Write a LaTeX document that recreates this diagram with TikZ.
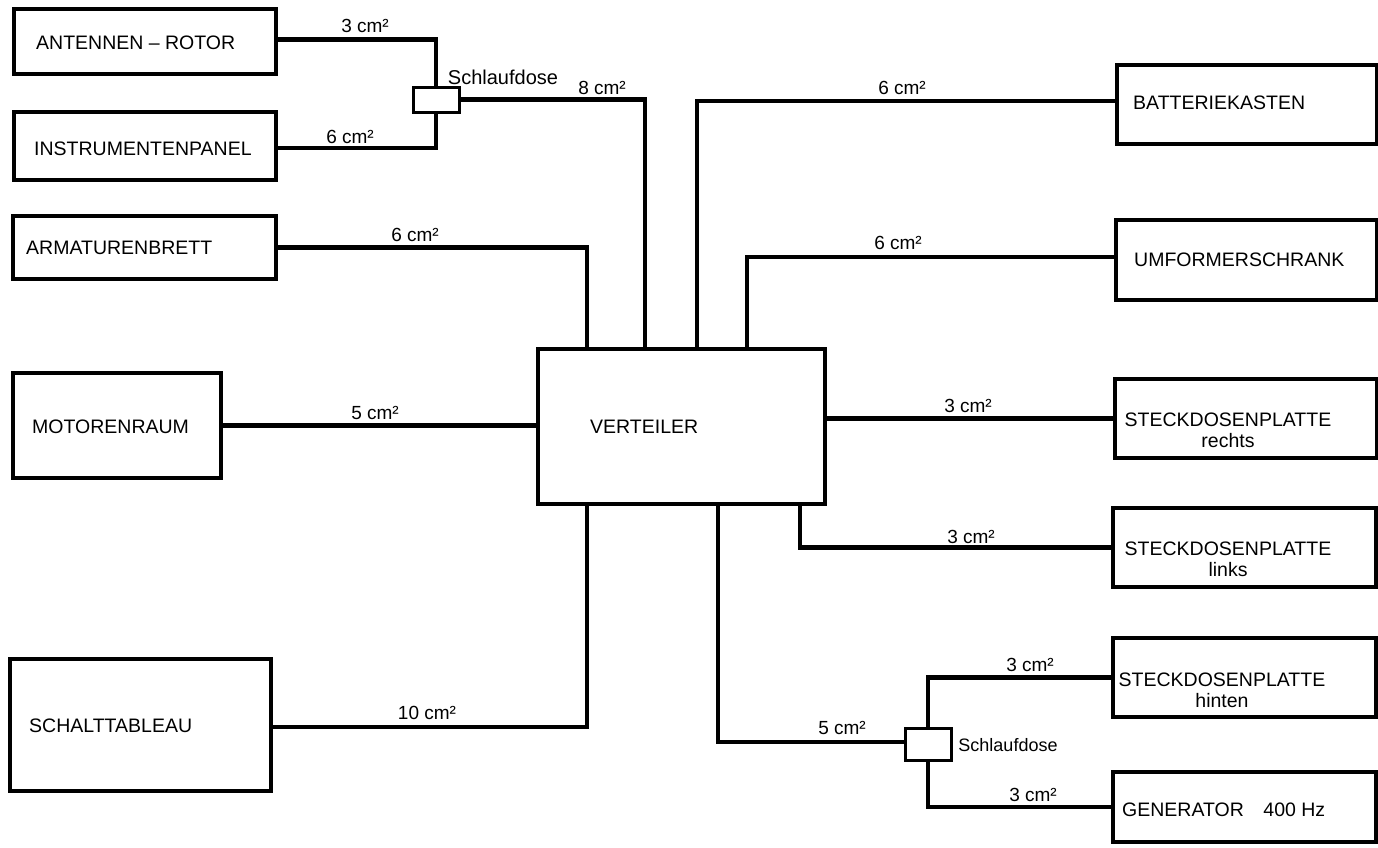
\documentclass[tikz,border=0pt]{standalone}
\usepackage{fontspec}
\setmainfont{Liberation Sans}
\begin{document}
\begin{tikzpicture}[x=1pt,y=-1pt,
  box/.style={draw, line width=3.5pt, inner sep=0pt},
  dose/.style={draw, line width=3pt, inner sep=0pt, minimum width=46pt},
  wire/.style={line width=4.2pt},
  txt/.style={font=\fontsize{19.5}{21}\selectfont, inner sep=0pt, anchor=west},
  ctxt/.style={font=\fontsize{19.5}{21}\selectfont, inner sep=0pt, align=center},
  qs/.style={font=\fontsize{19}{20}\selectfont, inner sep=0pt},
  sdl/.style={font=\fontsize{20}{21}\selectfont, inner sep=0pt}]
\useasboundingbox (0,0) rectangle (1378,847);
\fill[white] (0,0) rectangle (1378,847);

% boxes
\node[box,minimum width=262pt,minimum height=65pt] (ant) at (145,41.5) {};
\node[box,minimum width=262pt,minimum height=68pt] (ins) at (145,146) {};
\node[box,minimum width=263pt,minimum height=63pt] (arm) at (144.5,247.5) {};
\node[box,minimum width=208pt,minimum height=105pt] (mot) at (117,425.5) {};
\node[box,minimum width=261pt,minimum height=132pt] (sch) at (140.5,725) {};
\node[box,minimum width=287pt,minimum height=155pt] (ver) at (681.5,426.5) {};
\node[box,minimum width=260pt,minimum height=79pt] (bat) at (1247,104.5) {};
\node[box,minimum width=261pt,minimum height=80pt] (umf) at (1246.5,260) {};
\node[box,minimum width=262pt,minimum height=79pt] (rec) at (1246,418.5) {};
\node[box,minimum width=263pt,minimum height=79pt] (lin) at (1244.5,547.5) {};
\node[box,minimum width=263pt,minimum height=79pt] (hin) at (1244.5,677.5) {};
\node[box,minimum width=263pt,minimum height=70pt] (gen) at (1244.5,807) {};
\node[dose,minimum height=25pt] (sd1) at (436,99.5) {};
\node[dose,minimum height=32pt] (sd2) at (928,744) {};

% box texts
\node[txt] (tant) at (36,43) {ANTENNEN – ROTOR};
\node[txt] (tins) at (34,149) {INSTRUMENTENPANEL};
\node[txt] (tarm) at (26,248) {ARMATURENBRETT};
\node[txt] (tmot) at (32,427) {MOTORENRAUM};
\node[txt] (tsch) at (29,726) {SCHALTTABLEAU};
\node[txt] (tver) at (590,427) {VERTEILER};
\node[txt] (tbat) at (1133,103) {BATTERIEKASTEN};
\node[txt] (tumf) at (1134,260) {UMFORMERSCHRANK};
\node[ctxt] (trec) at (1228,430) {STECKDOSENPLATTE\\rechts};
\node[ctxt] (tlin) at (1228,559) {STECKDOSENPLATTE\\links};
\node[ctxt] (thin) at (1222,690) {STECKDOSENPLATTE\\hinten};
\node[txt] (tgen) at (1122,810) {GENERATOR\quad 400 Hz};

% vertical line positions
\coordinate (xa) at (587,0);
\coordinate (xb) at (645,0);
\coordinate (xc) at (697,0);
\coordinate (xd) at (747,0);
\coordinate (xe) at (800,0);
\coordinate (xf) at (718,0);

% wires
\draw[wire] ([yshift=2pt]ant.east) -| (sd1.north);
\draw[wire] ([yshift=-2pt]ins.east) -| (sd1.south);
\draw[wire] (sd1.east) -| (ver.north -| xb);
\draw[wire] (arm.east) -| (ver.north -| xa);
\draw[wire] (mot.east) -- (ver.west |- mot.east);
\draw[wire] ([yshift=-2pt]sch.east) -| (ver.south -| xa);
\draw[wire] ([yshift=3.5pt]bat.west) -| (ver.north -| xc);
\draw[wire] ([yshift=3pt]umf.west) -| (ver.north -| xd);
\draw[wire] (rec.west) -- (ver.east |- rec.west);
\draw[wire] (lin.west) -| (ver.south -| xe);
\draw[wire] ([yshift=2pt]sd2.west) -| (ver.south -| xf);
\draw[wire] (hin.west) -| (sd2.north);
\draw[wire] (gen.west) -| (sd2.south);

% cross-section labels
\node[qs] (l1) at (365,26) {3 cm²};
\node[sdl] (s1) at (503,77) {Schlaufdose};
\node[qs] (l2) at (602,88) {8 cm²};
\node[qs] (l3) at (350,137) {6 cm²};
\node[qs] (l4) at (415,235) {6 cm²};
\node[qs] (l5) at (375,413) {5 cm²};
\node[qs] (l6) at (427,713) {10 cm²};
\node[qs] (l7) at (902,88) {6 cm²};
\node[qs] (l8) at (898,243) {6 cm²};
\node[qs] (l9) at (968,406) {3 cm²};
\node[qs] (l10) at (971,537) {3 cm²};
\node[qs] (l11) at (842,728) {5 cm²};
\node[qs] (l12) at (1030,665) {3 cm²};
\node[qs] (l13) at (1033,795) {3 cm²};
\node[font=\fontsize{18}{19}\selectfont, inner sep=0pt] (s2) at (1008,745) {Schlaufdose};
\end{tikzpicture}
\end{document}
